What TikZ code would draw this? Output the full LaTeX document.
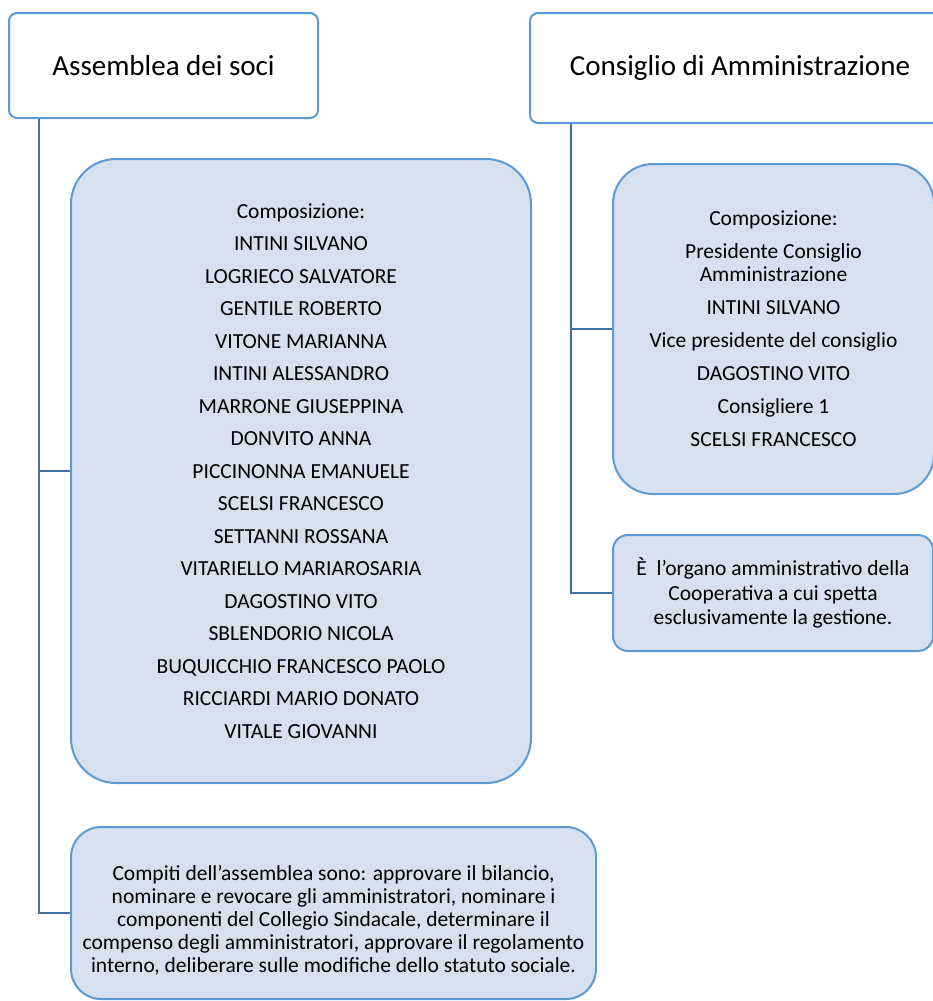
\documentclass[tikz,border=0pt]{standalone}
\usepackage{fontspec}
\setmainfont{Carlito}
\usetikzlibrary{positioning}
\definecolor{boxline}{RGB}{91,155,213}
\definecolor{linkline}{RGB}{65,113,156}
\definecolor{boxfill}{RGB}{214,224,239}

\begin{document}
\begin{tikzpicture}[x=1pt, y=-1pt,
    titlebox/.style={draw=boxline, fill=white, line width=2pt, rounded corners=8pt,
        anchor=north west, align=center, font=\fontsize{29}{35}\selectfont},
    infobox/.style={draw=boxline, fill=boxfill, line width=2pt,
        anchor=north west, align=center, font=\fontsize{21.5}{23}\selectfont},
    link/.style={draw=linkline, line width=2pt}]
			% Fix the page
			\useasboundingbox (0,0) rectangle (933,1001);

			% Draw the two heads
			\node[titlebox, minimum width=309pt, minimum height=105pt] (asm) at (8,12) {Assemblea dei soci};
			\node[titlebox, minimum width=420pt, minimum height=110pt] (cda) at (529,12) {Consiglio di Amministrazione};

			% Draw the boxes below the assemblea
			\node[infobox, rounded corners=45pt, minimum width=460pt, minimum height=624pt] (compA) at (70,158) {%
                Composizione:\\[9.5pt]
                INTINI SILVANO\\[9.5pt]
                LOGRIECO SALVATORE\\[9.5pt]
                GENTILE ROBERTO\\[9.5pt]
                VITONE MARIANNA\\[9.5pt]
                INTINI ALESSANDRO\\[9.5pt]
                MARRONE GIUSEPPINA\\[9.5pt]
                DONVITO ANNA\\[9.5pt]
                PICCINONNA EMANUELE\\[9.5pt]
                SCELSI FRANCESCO\\[9.5pt]
                SETTANNI ROSSANA\\[9.5pt]
                VITARIELLO MARIAROSARIA\\[9.5pt]
                DAGOSTINO VITO\\[9.5pt]
                SBLENDORIO NICOLA\\[9.5pt]
                BUQUICCHIO FRANCESCO PAOLO\\[9.5pt]
                RICCIARDI MARIO DONATO\\[9.5pt]
                VITALE GIOVANNI};
			\node[infobox, rounded corners=30pt, minimum width=525pt, minimum height=172pt] (compitiA) at (70,826) {%
                \rule{0pt}{30pt}Compiti dell’assemblea sono: approvare il bilancio,\\
                nominare e revocare gli amministratori, nominare i\\
                componenti del Collegio Sindacale, determinare il\\
                compenso degli amministratori, approvare il regolamento\\
                interno, deliberare sulle modifiche dello statuto sociale.};

			% Draw the boxes below the consiglio
			\node[infobox, rounded corners=40pt, minimum width=321pt, minimum height=330pt] (compB) at (612,163) {%
                Composizione:\\[10pt]
                Presidente Consiglio\\
                Amministrazione\\[10pt]
                INTINI SILVANO\\[10pt]
                Vice presidente del consiglio\\[10pt]
                DAGOSTINO VITO\\[10pt]
                Consigliere 1\\[10pt]
                SCELSI FRANCESCO};
			\node[infobox, rounded corners=15pt, minimum width=320pt, minimum height=116pt,
                font=\fontsize{21.5}{24.5}\selectfont] (ruoloB) at (612,534) {%
                È~ l’organo amministrativo della\\
                Cooperativa a cui spetta\\
                esclusivamente la gestione.};

			% Draw the connectors
			\draw[link] ([xshift=31pt]asm.south west) |- (compA.west);
			\draw[link] ([xshift=31pt]asm.south west) |- (compitiA.west);
			\draw[link] ([xshift=42pt]cda.south west) |- (compB.west);
			\draw[link] ([xshift=42pt]cda.south west) |- (ruoloB.west);

		\end{tikzpicture}
\end{document}
